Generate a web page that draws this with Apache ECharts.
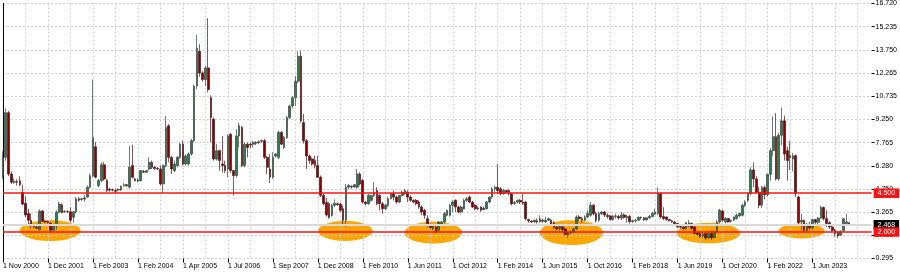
<!DOCTYPE html>
<html><head><meta charset="utf-8">
<script src="https://cdn.jsdelivr.net/npm/echarts@6/dist/echarts.min.js"></script>
<style>html,body{margin:0;padding:0;background:#fff}#c{width:900px;height:272px}</style>
</head><body><div id="c"></div>
<script>
// x-axis tick labels, one every 16 bars
const tickLabels = ['1 Nov 2000','1 Dec 2001','1 Feb 2003','1 Feb 2004','1 Apr 2005','1 Jul 2006','1 Sep 2007','1 Dec 2008','1 Feb 2010','1 Jun 2011','1 Oct 2012','1 Feb 2014','1 Jun 2015','1 Oct 2016','1 Feb 2018','1 Jun 2019','1 Oct 2020','1 Feb 2022','1 Jun 2023'];
const tickEvery = 16;
const gridEvery = 8;
// price scale labels (bottom to top)
const priceLabels = ['0.295','1.780','3.265','4.750','6.280','7.765','9.250','10.735','12.265','13.750','15.235','16.720'];
const priceMin = 0.295, priceMax = 16.720;
// horizontal levels
const levels = [4.5, 2.0];
const lastPrice = 2.468;
// highlighted zones: [bar index, price, half width in bars, half height in price]
const zones = [[16.8,2.09,10.8,0.67],[121.8,2.07,9.7,0.64],[153.1,1.96,10.25,0.70],[202.2,1.96,11.2,0.80],[251.0,1.93,11.2,0.66],[284.1,2.07,8.2,0.48]];
// candles: [open, close, low, high]
const candles = [
[5.6,6.8,5.4,7.2],[6.81,9.69,6.6,9.97],[9.69,5.74,5.6,9.8],[5.74,5.21,5.1,5.9],[5.2,5.25,5.1,5.45],
[5.25,5.2,5.0,5.4],[5.3,5.05,4.95,5.6],[4.55,3.8,3.72,5.05],[3.85,3.1,2.95,4.3],[3.2,2.76,2.44,3.5],
[2.76,2.45,2.25,3.2],[2.35,2.33,2.25,2.45],[2.3,2.25,2.2,2.42],[2.16,3.36,2.1,3.45],[3.36,2.7,2.65,3.4],
[2.7,2.65,2.6,2.8],[2.68,2.62,2.55,2.72],[2.55,2.12,1.92,2.65],[2.12,2.44,2.05,2.48],[2.44,3.29,2.15,3.4],
[3.29,3.8,3.2,3.95],[3.75,3.25,3.2,3.85],[3.3,3.33,3.25,3.4],[3.32,3.3,3.25,3.4],[3.3,2.76,2.6,3.6],
[2.95,3.3,2.6,3.35],[3.3,4.14,3.2,4.25],[4.14,4.05,3.95,4.25],[4.1,4.14,4.0,4.2],[4.12,4.2,3.95,4.4],
[4.25,4.89,4.2,5.0],[4.89,5.63,4.8,5.75],[5.63,8.08,5.5,11.82],[7.5,5.53,5.45,7.8],[5.0,5.32,4.89,5.42],
[5.32,6.33,5.2,6.5],[6.33,5.42,5.3,6.5],[5.32,4.68,4.57,5.42],[4.75,4.7,4.6,4.85],[4.72,4.7,4.62,4.8],
[4.68,4.62,4.46,4.78],[4.7,4.75,4.62,4.82],[4.7,4.95,4.65,5.0],[5.0,5.05,4.9,5.15],[5.05,4.98,4.92,5.1],
[4.89,6.17,4.8,7.56],[6.28,5.53,5.45,7.62],[5.42,5.32,5.25,5.5],[5.35,5.3,5.2,5.45],[5.32,5.96,5.25,6.0],
[5.9,5.85,5.8,6.0],[5.85,5.95,5.8,6.0],[6.06,6.49,5.96,6.81],[6.49,6.17,6.06,6.6],[6.17,6.1,6.0,6.25],
[6.1,6.06,6.0,6.2],[6.06,5.1,5.0,6.28],[5.1,6.28,4.5,6.35],[6.28,8.73,6.17,9.47],[8.84,6.81,6.5,8.95],
[6.81,6.06,5.74,6.9],[5.96,6.38,5.85,6.6],[6.28,6.81,6.17,6.9],[6.81,7.66,6.7,7.75],[7.66,6.38,6.28,7.88],
[6.38,6.9,6.28,7.0],[6.38,7.03,6.28,7.14],[7.03,7.88,6.92,7.99],[7.88,11.4,7.77,11.5],[11.4,13.85,11.2,14.7],
[13.64,12.25,12.0,14.1],[12.25,11.82,11.7,12.35],[11.82,12.57,11.4,12.7],[12.57,11.18,11.0,15.77],[10.65,9.37,7.77,10.8],
[9.27,6.7,6.6,9.37],[6.7,7.24,6.6,7.66],[7.24,6.6,5.96,7.3],[6.38,6.28,5.86,8.19],[6.3,5.96,5.8,6.6],
[6.06,8.19,5.53,8.3],[8.3,5.96,5.8,8.35],[5.96,5.64,4.36,6.0],[5.64,8.19,5.53,8.62],[8.19,8.84,7.45,9.05],
[8.73,6.28,6.17,8.84],[6.28,7.66,6.17,7.77],[7.66,7.45,6.81,7.77],[7.66,7.6,7.4,7.77],[7.66,7.77,7.45,7.88],
[7.77,7.72,7.6,7.85],[7.75,7.82,7.65,7.9],[7.85,7.9,7.75,7.95],[7.88,6.81,6.7,7.99],[6.81,6.17,5.74,6.9],
[6.06,5.53,5.15,7.0],[5.53,6.81,5.42,7.14],[6.9,7.03,6.8,7.1],[6.81,8.41,6.7,8.52],[8.41,7.66,7.6,8.5],
[7.45,8.09,7.35,8.19],[8.09,9.37,7.99,9.48],[9.37,10.12,9.27,10.2],[10.12,10.65,9.97,10.75],[10.65,11.72,10.12,12.04],
[11.72,13.32,11.6,13.64],[13.32,9.16,9.05,13.68],[9.05,7.88,7.7,9.6],[7.88,6.9,6.06,8.0],[6.9,6.6,6.4,7.0],
[6.7,6.38,6.28,6.8],[6.6,6.28,6.1,6.9],[6.28,5.53,5.5,6.9],[5.53,4.36,4.25,5.64],[4.36,3.82,3.72,4.5],
[3.9,3.1,3.0,4.2],[3.82,2.93,2.86,3.93],[3.08,3.72,3.0,3.82],[3.72,3.85,3.6,4.1],[3.82,3.75,3.7,3.9],
[3.8,3.4,3.3,3.9],[3.5,2.76,2.44,3.72],[2.76,4.89,2.33,5.1],[4.89,5.0,4.78,5.1],[4.95,4.9,4.8,5.0],
[4.9,5.05,4.85,5.1],[4.89,5.74,4.78,6.06],[5.74,5.1,5.0,5.85],[5.32,3.93,3.82,5.42],[3.93,3.82,3.7,4.0],
[3.82,4.36,3.75,4.46],[4.04,4.36,3.95,4.4],[4.36,4.57,4.25,5.21],[4.68,3.82,3.72,4.89],[4.36,3.82,3.4,4.46],
[3.82,3.5,3.18,3.93],[3.5,3.72,3.4,3.82],[3.72,4.14,3.6,4.25],[4.14,4.46,4.1,4.5],[4.46,4.25,4.04,4.68],
[4.25,3.93,3.82,4.36],[3.93,4.36,3.85,4.4],[4.36,4.57,4.3,4.68],[4.46,4.68,4.4,4.75],[4.57,4.25,3.93,4.68],
[4.25,4.04,3.95,4.36],[4.04,3.93,3.85,4.1],[4.04,3.82,3.72,4.14],[3.93,3.61,3.5,4.04],[3.61,3.29,3.08,3.72],
[3.4,3.08,2.86,3.5],[2.86,2.44,2.33,3.08],[2.44,2.28,2.22,2.55],[2.22,2.44,2.12,2.5],[2.33,2.01,1.91,2.44],
[2.12,2.65,2.05,2.7],[2.55,2.65,2.5,2.72],[2.65,3.18,2.55,3.29],[3.08,3.4,3.0,3.45],[3.08,3.72,3.0,3.8],
[3.72,3.93,3.29,4.04],[4.04,3.61,3.29,4.1],[3.61,3.29,3.2,3.7],[3.29,3.61,3.2,3.7],[3.5,4.04,3.45,4.14],
[4.04,4.14,3.93,4.25],[4.25,3.93,3.85,4.36],[3.93,3.61,3.55,4.0],[3.72,3.5,3.4,3.8],[3.55,3.5,3.4,3.65],
[3.61,3.4,3.3,3.65],[3.45,3.55,3.4,3.65],[3.5,3.93,3.45,4.0],[3.93,4.25,3.85,4.3],[4.25,4.78,4.14,4.89],
[4.78,4.89,4.6,5.0],[4.89,4.68,4.46,6.38],[4.78,4.46,4.36,4.89],[4.46,4.68,4.4,4.78],[4.68,4.57,4.5,4.7],
[4.68,4.46,4.36,4.75],[4.46,3.82,3.72,4.5],[3.85,3.9,3.75,4.0],[3.93,4.04,3.85,4.1],[4.04,3.93,3.8,4.14],
[3.93,3.85,3.75,4.46],[3.93,2.86,2.76,4.0],[2.8,2.72,2.6,2.86],[2.7,2.65,2.6,2.76],[2.65,2.76,2.6,2.8],
[2.72,2.65,2.55,2.86],[2.65,2.86,2.6,3.08],[2.76,2.7,2.6,2.86],[2.65,2.76,2.6,2.97],[2.76,2.86,2.7,2.92],
[2.76,2.55,2.5,2.86],[2.6,2.3,2.22,2.7],[2.3,2.2,2.1,2.4],[2.22,2.35,2.0,2.5],[2.33,2.15,1.95,2.4],
[2.2,1.85,1.75,2.3],[1.8,1.95,1.61,2.0],[1.95,2.0,1.85,2.1],[2.0,2.2,1.9,2.3],[2.2,2.97,2.12,3.08],
[2.97,2.86,2.7,3.08],[2.86,2.76,2.6,2.97],[2.76,2.97,2.7,3.08],[2.97,3.2,2.9,3.4],[3.08,3.72,3.0,3.93],
[3.72,3.18,3.08,3.82],[3.18,2.76,2.6,3.29],[2.76,3.18,2.65,3.29],[3.18,3.29,3.08,3.35],[3.29,3.1,2.97,3.35],
[3.08,3.0,2.86,3.2],[3.04,2.8,2.76,3.1],[2.8,3.0,2.7,3.1],[3.0,3.04,2.86,3.18],[3.0,2.9,2.8,3.1],
[2.9,3.1,2.76,3.29],[3.1,2.95,2.86,3.2],[2.9,3.0,2.6,3.1],[3.0,2.67,2.55,3.1],[2.67,2.73,2.6,2.8],
[2.73,2.76,2.6,2.86],[2.76,2.95,2.7,3.0],[2.95,2.92,2.8,3.0],[2.92,2.78,2.72,2.97],[2.78,2.92,2.74,2.97],
[2.92,3.0,2.85,3.1],[3.0,3.2,2.95,3.29],[3.15,3.3,3.1,3.5],[3.19,4.5,3.1,4.89],[4.46,2.97,2.86,4.55],
[3.0,2.87,2.76,3.6],[2.97,2.8,2.72,3.0],[2.8,2.74,2.66,2.85],[2.72,2.65,2.6,2.78],[2.65,2.55,2.48,2.7],
[2.55,2.33,2.28,2.6],[2.35,2.3,2.22,2.44],[2.33,2.23,2.15,2.4],[2.23,2.59,2.15,2.65],[2.4,2.6,2.3,2.76],
[2.55,2.23,2.15,2.6],[2.33,1.91,1.85,2.4],[1.95,1.85,1.75,2.01],[1.91,1.69,1.64,2.01],[1.75,1.85,1.64,2.01],
[1.91,1.62,1.48,1.95],[1.62,1.9,1.55,2.0],[1.91,1.62,1.5,2.1],[1.65,2.01,1.6,2.1],[2.01,2.65,1.95,2.76],
[2.65,3.4,2.55,3.5],[3.35,2.76,2.65,3.45],[2.65,2.87,2.55,2.97],[2.87,2.65,2.6,2.9],[2.7,2.75,2.6,2.8],
[2.76,2.97,2.7,3.0],[2.87,3.08,2.8,3.19],[3.04,3.19,2.95,3.25],[3.08,3.72,3.0,3.8],[3.72,3.93,3.6,4.04],
[4.04,4.46,3.93,4.57],[4.46,6.0,4.36,6.17],[6.0,5.42,4.9,6.49],[5.42,4.57,4.5,5.6],[4.57,3.73,3.53,4.89],
[3.73,4.87,3.55,4.95],[4.87,4.4,4.1,5.0],[4.4,5.72,4.3,5.75],[5.72,7.24,5.3,7.4],[7.24,8.14,6.9,9.46],
[8.14,5.42,5.32,9.66],[5.42,8.23,5.3,8.4],[8.23,9.16,7.6,10.03],[9.16,7.02,6.6,9.5],[7.24,6.6,5.3,7.5],
[6.92,6.8,6.0,7.88],[6.7,6.92,5.9,7.1],[6.92,4.46,4.25,7.0],[4.25,2.6,2.5,4.36],[2.65,2.76,2.1,3.18],
[2.76,2.1,1.97,2.8],[2.1,2.41,1.95,2.6],[2.41,2.27,2.1,2.65],[2.27,2.8,2.13,2.85],[2.8,2.63,2.48,2.85],
[2.63,2.9,2.5,2.97],[2.9,3.58,2.85,3.7],[3.58,2.86,2.75,3.65],[2.86,2.55,2.33,3.4],[2.6,2.33,2.2,2.7],
[2.33,2.1,1.95,2.4],[2.12,1.9,1.7,2.2],[1.99,1.75,1.6,2.05],[1.8,2.05,1.75,2.1],[2.1,2.86,2.0,2.9],
[2.55,2.65,2.5,3.18],[2.6,2.468,2.45,2.62]
];
const emptyBarsRight = 8;

const FONT = 'Liberation Sans';
const FS = 7;
const barCount = candles.length + emptyBarsRight;
const categories = [];
for (let i = 0; i < barCount; i++) categories.push(String(i));

const chart = echarts.init(document.getElementById('c'), null, {renderer: 'canvas'});
const gridLine = {show: true, lineStyle: {color: '#d0d0d0', type: [2, 2], width: 1}};

const option = {
  animation: false,
  backgroundColor: '#fff',
  grid: {left: -2, right: 28, top: 1.8, bottom: 13.5, containLabel: false},
  xAxis: [{
    type: 'category', data: categories, boundaryGap: false,
    axisLine: {show: false},
    axisTick: {show: true, length: 4, interval: (i) => i % tickEvery === 0 && i / tickEvery < tickLabels.length, lineStyle: {color: '#000'}},
    axisLabel: {show: true, interval: (i) => i % tickEvery === 0 && i / tickEvery < tickLabels.length,
      formatter: (v, i) => tickLabels[Math.round(Number(v) / tickEvery)] || '',
      align: 'left', margin: 4, fontSize: FS, fontFamily: FONT, color: '#000'},
    splitLine: Object.assign({interval: (i) => i % gridEvery === 0}, gridLine)
  }, {
    type: 'value', min: 0, max: barCount - 1, show: false
  }],
  yAxis: [{
    type: 'value', min: priceMin, max: priceMax, position: 'right',
    axisLine: {show: true, lineStyle: {color: '#000', width: 1}},
    axisTick: {show: false}, axisLabel: {show: false}, splitLine: {show: false}
  }, {
    type: 'category', data: priceLabels, boundaryGap: false, position: 'right',
    axisLine: {show: false},
    axisTick: {show: true, length: 3, lineStyle: {color: '#000'}},
    axisLabel: {show: true, margin: 4, fontSize: FS, fontFamily: FONT, color: '#000'},
    splitLine: gridLine
  }],
  series: [{
    type: 'custom', xAxisIndex: 1, yAxisIndex: 0, z: -1, silent: true,
    data: zones,
    renderItem: function (params, api) {
      const cx = api.value(0), cy = api.value(1), rb = api.value(2), rv = api.value(3);
      const c = api.coord([cx, cy]);
      const rx = (api.coord([cx + rb, cy])[0] - api.coord([cx - rb, cy])[0]) / 2;
      const ry = (api.coord([cx, cy - rv])[1] - api.coord([cx, cy + rv])[1]) / 2;
      const pts = [];
      for (let k = 0; k < 60; k++) {
        const a = k / 60 * Math.PI * 2;
        pts.push([c[0] + rx * Math.cos(a), c[1] + ry * Math.sin(a)]);
      }
      return {type: 'polygon', shape: {points: pts}, style: {fill: '#FFA500'}};
    }
  }, {
    type: 'candlestick', xAxisIndex: 0, yAxisIndex: 0, z: 2,
    data: candles,
    barWidth: 2.2,
    itemStyle: {color: '#2e7d52', color0: '#8b0000', borderColor: '#33443a', borderColor0: '#4a1515', borderWidth: 0.7},
    markLine: {
      silent: true, symbol: ['none', 'none'], animation: false,
      label: {position: 'end', distance: 2, fontSize: FS, fontFamily: FONT, color: '#fff', padding: [1.5, 4, 1, 4]},
      data: [
        {yAxis: lastPrice, lineStyle: {color: '#d9d9d9', width: 2, type: 'solid'},
          label: {backgroundColor: '#000', formatter: lastPrice.toFixed(3)}},
        {yAxis: levels[0], lineStyle: {color: '#ff1010', width: 1.6, type: 'solid'},
          label: {backgroundColor: '#ff1010', formatter: levels[0].toFixed(3)}},
        {yAxis: levels[1], lineStyle: {color: '#ff1010', width: 1.6, type: 'solid'},
          label: {backgroundColor: '#ff1010', formatter: levels[1].toFixed(3)}}
      ]
    }
  }]
};
chart.setOption(option);
</script>
</body></html>
